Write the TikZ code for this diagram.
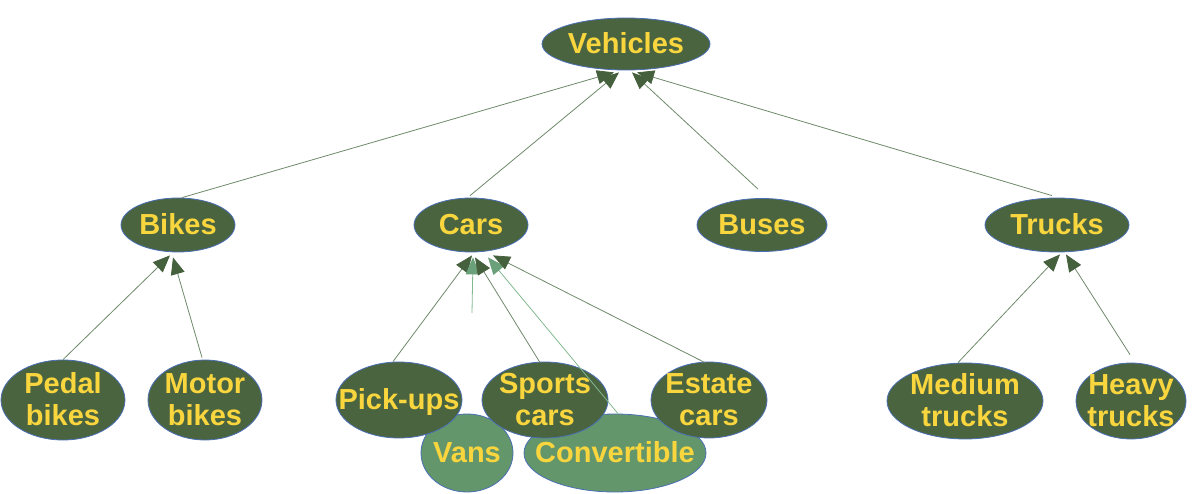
\documentclass[tikz,border=0pt]{standalone}
\usepackage{fontspec}
\setmainfont{Liberation Sans}
\usetikzlibrary{shapes.geometric,arrows.meta,calc}
\definecolor{darkg}{HTML}{4A6440}
\definecolor{lightg}{HTML}{64966C}
\definecolor{yell}{HTML}{F9D53E}
\definecolor{bord}{HTML}{4A6FB5}
\definecolor{linec}{HTML}{6E8A6A}
\definecolor{arrowc}{HTML}{45603D}
\definecolor{lline}{HTML}{82B890}
\definecolor{larrow}{HTML}{6AA07A}
% zero-size text boxes, caps centred on the node centre
\newcommand\lnx[1]{\hbox to 0pt{\hss\smash{#1}\vphantom{H}\hss}}
\newcommand\onel[1]{\vbox to 0pt{\vss\lnx{#1}\vss}}
\newcommand\twol[2]{\vbox to 0pt{\vss\lnx{#1}\lnx{#2}\vss}}
\tikzset{
  nd/.style={ellipse, draw=bord, line width=0.8pt, text=yell, inner sep=0pt,
    font=\fontsize{29}{32}\selectfont\bfseries},
  dk/.style={nd, fill=darkg},
  lt/.style={nd, fill=lightg},
  conn/.style={draw=linec, line width=0.8pt, -{Triangle[length=17pt,width=14pt,color=arrowc]}},
  lconn/.style={draw=lline, line width=0.8pt, -{Triangle[length=17pt,width=14pt,color=larrow]}},
}
\begin{document}
\begin{tikzpicture}[x=1pt,y=-1pt]
\useasboundingbox (0,0) rectangle (1192,494);
% light (background) nodes
\node[lt, minimum width=92, minimum height=78] (vans) at (467,453) {\onel{Vans}};
\node[lt, minimum width=182, minimum height=78] (conv) at (615,453) {\onel{Convertible}};
% dark nodes
\node[dk, minimum width=168, minimum height=52] (veh) at (626,44) {\onel{Vehicles}};
\node[dk, minimum width=114, minimum height=54] (bikes) at (178,225) {\onel{Bikes}};
\node[dk, minimum width=114, minimum height=54] (cars) at (471,225) {\onel{Cars}};
\node[dk, minimum width=130, minimum height=53] (buses) at (762,225) {\onel{Buses}};
\node[dk, minimum width=144, minimum height=54] (trucks) at (1057,225) {\onel{Trucks}};
\node[dk, minimum width=124, minimum height=80] (pedal) at (63,400) {\twol{Pedal}{bikes}};
\node[dk, minimum width=114, minimum height=80] (motor) at (205,400) {\twol{Motor}{bikes}};
\node[dk, minimum width=126, minimum height=76] (pick) at (399,400) {\onel{Pick-ups}};
\node[dk, minimum width=126, minimum height=76] (sports) at (545,400) {\twol{Sports}{cars}};
\node[dk, minimum width=116, minimum height=76] (estate) at (709,400) {\twol{Estate}{cars}};
\node[dk, minimum width=156, minimum height=76] (medium) at (965,401) {\twol{Medium}{trucks}};
\node[dk, minimum width=110, minimum height=76] (heavy) at (1131,401) {\twol{Heavy}{trucks}};
\coordinate (vansend) at (472,313);
% connectors to Vehicles
\draw[conn] ($(bikes.north)+(4,0)$) -- ($(veh.south)+(-12,2)$);
\draw[conn] ($(cars.north)+(-1,-2)$) -- ($(veh.south)+(-7,2)$);
\draw[conn] ($(buses.north)+(-4,-9)$) -- ($(veh.south)+(6,2)$);
\draw[conn] ($(trucks.north)+(-5,-2)$) -- ($(veh.south)+(11,2)$);
% connectors to Bikes
\draw[conn] (pedal.north) -- ($(bikes.south)+(-8,3)$);
\draw[conn] ($(motor.north)+(-3,-2)$) -- ($(bikes.south)+(-5,5)$);
% connectors to Cars
\draw[conn] ($(pick.north)+(-6,0)$) -- ($(cars.south)+(1,3)$);
\draw[lconn] (vansend) -- ($(cars.south)+(2,5)$);
\draw[conn] ($(sports.north)+(-5,1)$) -- ($(cars.south)+(4,5)$);
\draw[lconn] ($(conv.north)+(3,0)$) -- ($(cars.south)+(17,5)$);
\draw[conn] ($(estate.north)+(-4,1)$) -- ($(cars.south)+(22,3)$);
% connectors to Trucks
\draw[conn] ($(medium.north)+(-7,0)$) -- ($(trucks.south)+(3,2)$);
\draw[conn] ($(heavy.north)+(-1,-8)$) -- ($(trucks.south)+(9,2)$);
\end{tikzpicture}
\end{document}
